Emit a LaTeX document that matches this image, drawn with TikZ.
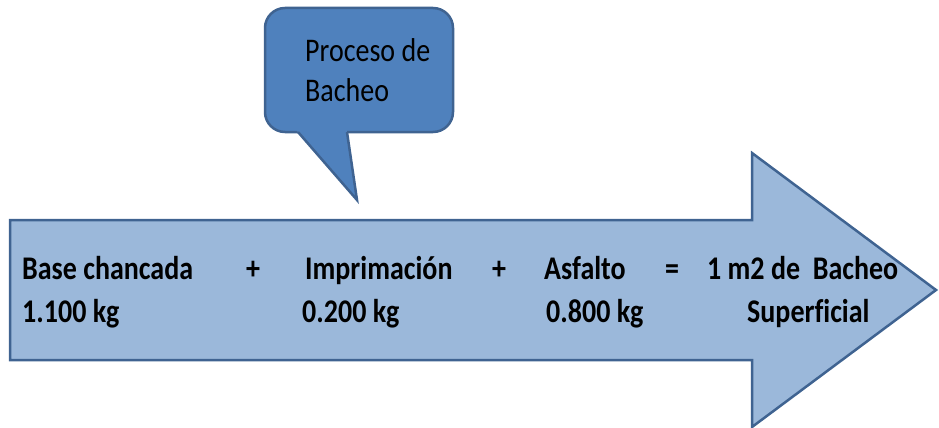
\documentclass[tikz,border=0pt]{standalone}
\usepackage{fontspec}
\setmainfont[Ligatures=CommonOff]{Carlito}
\definecolor{bodyfill}{HTML}{9BB8DA}
\definecolor{edge}{HTML}{3F6391}
\definecolor{callfill}{HTML}{4F81BD}
\newcommand{\vstretch}[1]{\scalebox{1}[1.18]{#1}}
\begin{document}
\begin{tikzpicture}[x=1pt,y=-1pt,line join=miter,
  edgeline/.style={draw=edge,line width=2.5pt},
  txt/.style={font=\bfseries\fontsize{28}{34}\selectfont,inner sep=0pt,anchor=base west,text=black},
  ctxt/.style={font=\fontsize{28}{34}\selectfont,inner sep=0pt,anchor=base west,text=black}]
\useasboundingbox (0,0) rectangle (939,428);
% big arrow
\path[edgeline,fill=bodyfill] (10,220) -- (752,220) -- (752,153) -- (936,290) -- (752,427) -- (752,360) -- (10,360) -- cycle;
% callout
\path[edgeline,fill=callfill,rounded corners=20pt] (265,8) rectangle (453,132);
\fill[callfill] (295.4,129) -- (357,200) -- (346.6,129) -- cycle;
\draw[edge,line width=2.5pt] (298,132) -- (357,200) -- (347,132);
\node[ctxt] (c1) at (305,62) {\vstretch{Proceso de}};
\node[ctxt] (c2) at (305,101) {\vstretch{Bacheo}};
% row 1
\node[txt] (bc) at (22,279) {\vstretch{Base chancada}};
\node[txt] (p1) at (246,279) {\vstretch{+}};
\node[txt] (imp) at (305,279) {\vstretch{Imprimación}};
\node[txt] (p2) at (492,279) {\vstretch{+}};
\node[txt] (asf) at (544,279) {\vstretch{Asfalto}};
\node[txt] (eq) at (665,279) {\vstretch{=}};
\node[txt] (m2) at (707,279) {\vstretch{1 m2 de\ \ Bacheo}};
% row 2
\node[txt] (k1) at (22,322) {\vstretch{1.100 kg}};
\node[txt] (k2) at (302,322) {\vstretch{0.200 kg}};
\node[txt] (k3) at (546,322) {\vstretch{0.800 kg}};
\node[txt] (sup) at (747,322) {\vstretch{Superficial}};
\end{tikzpicture}
\end{document}
